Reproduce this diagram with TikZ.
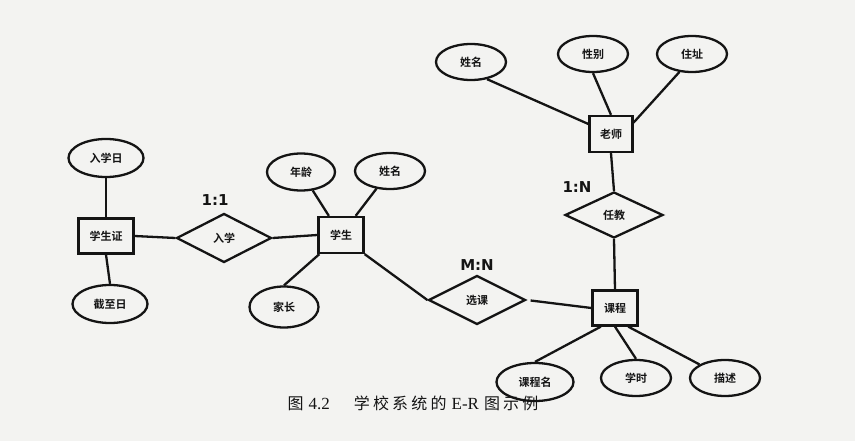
\documentclass[tikz,border=0pt]{standalone}
\usepackage{fontspec}
\setmainfont{Noto Sans CJK SC}[BoldFont={Noto Sans CJK SC Bold}]
\newfontfamily\ratiofont{DejaVu Sans}
\newfontfamily\capfont{Noto Sans CJK SC}[LetterSpace=20]
\newfontfamily\caplatin{Liberation Serif}
\usetikzlibrary{shapes.geometric,calc}
\definecolor{bg}{RGB}{243,243,241}
\definecolor{ink}{RGB}{20,20,20}
\tikzset{
  every node/.style={text=ink},
  attr/.style={ellipse,draw=ink,line width=2.3pt,inner sep=0pt,font=\fontsize{11}{12}\selectfont\bfseries},
  entity/.style={rectangle,draw=ink,line width=2.3pt,inner sep=0pt,minimum width=45pt,minimum height=36pt,font=\fontsize{11}{12}\selectfont\bfseries},
  rel/.style={diamond,draw=ink,line width=2.3pt,inner sep=0pt,minimum width=96pt,minimum height=49pt,font=\fontsize{11}{12}\selectfont\bfseries},
  link/.style={draw=ink,line width=2.3pt},
  ratio/.style={font=\ratiofont\fontsize{15}{17}\selectfont\bfseries},
}
\begin{document}
\begin{tikzpicture}[x=1pt,y=-1pt]
\fill[bg] (0,0) rectangle (855,441);
\useasboundingbox (0,0) rectangle (855,441);
% entities
\node[entity,minimum width=55pt,minimum height=35pt] (zj) at (106,236) {学生证};
\node[entity] (stu) at (341,235) {学生};
\node[entity,minimum width=43pt] (ls) at (611,134) {老师};
\node[entity,minimum height=35pt] (kc) at (615,308) {课程};
% relationships
\node[rel,minimum width=95pt] (rx) at (224,238) {入学};
\node[rel,minimum width=97pt] (xk) at (477,300) {选课};
\node[rel,minimum width=98pt,minimum height=46pt] (rj) at (614,215) {任教};
% attributes
\node[attr,minimum width=75pt,minimum height=38pt] (rxr) at (106,158) {入学日};
\node[attr,minimum width=75pt,minimum height=38pt] (jzr) at (110,304) {截至日};
\node[attr,minimum width=68pt,minimum height=37pt] (nl) at (301,172) {年龄};
\node[attr,minimum width=70pt,minimum height=36pt] (xm) at (390,171) {姓名};
\node[attr,minimum width=69pt,minimum height=41pt] (jz) at (284,307) {家长};
\node[attr,minimum width=70pt,minimum height=36pt] (tx) at (471,62) {姓名};
\node[attr,minimum width=70pt,minimum height=36pt] (xb) at (593,54) {性别};
\node[attr,minimum width=70pt,minimum height=36pt] (zz) at (692,54) {住址};
\node[attr,minimum width=77pt,minimum height=38pt] (kcm) at (535,382) {课程名};
\node[attr,minimum width=70pt,minimum height=36pt] (xs) at (636,378) {学时};
\node[attr,minimum width=70pt,minimum height=36pt] (ms) at (725,378) {描述};
% connectors
\draw[link] (zj.north) -- (rxr.south);
\draw[link] (zj.south) -- (jzr.north);
\draw[link] (zj.east) -- (rx.west);
\draw[link] (rx.east) -- (stu.west);
\draw[link] (nl) -- (stu);
\draw[link] (xm) -- (stu);
\draw[link] (jz.north) -- (stu);
\draw[link] (stu.south east) -- (xk.west);
\draw[link,shorten <=4pt] (xk.east) -- (kc.west);
\draw[link] (tx.-47) -- (ls);
\draw[link] (xb.south) -- (ls.north);
\draw[link] (zz.-125) -- ($(ls.north east)!0.2!(ls.south east)$);
\draw[link] (ls.south) -- (rj.north);
\draw[link] (rj.south) -- (kc.north);
\draw[link] ($(kc.south west)!0.2!(kc.south east)$) -- (kcm.north);
\draw[link] (kc.south) -- (xs.north);
\draw[link] ($(kc.south west)!0.78!(kc.south east)$) -- (ms.152);
% cardinalities
\node[ratio] (r1) at (215,200) {1:1};
\node[ratio] (r2) at (477,265) {M:N};
\node[ratio] (r3) at (577,187) {1:N};
% caption
\node[font=\fontsize{16}{17}\selectfont,inner sep=0pt] (cap) at (413,403) {\capfont 图\hspace{5pt}{\caplatin\fontsize{17}{17}\selectfont 4.2}\hspace{24pt}学校系统的\hspace{5pt}{\caplatin\fontsize{17}{17}\selectfont E-R}\hspace{5pt}图示例};
\end{tikzpicture}
\end{document}
